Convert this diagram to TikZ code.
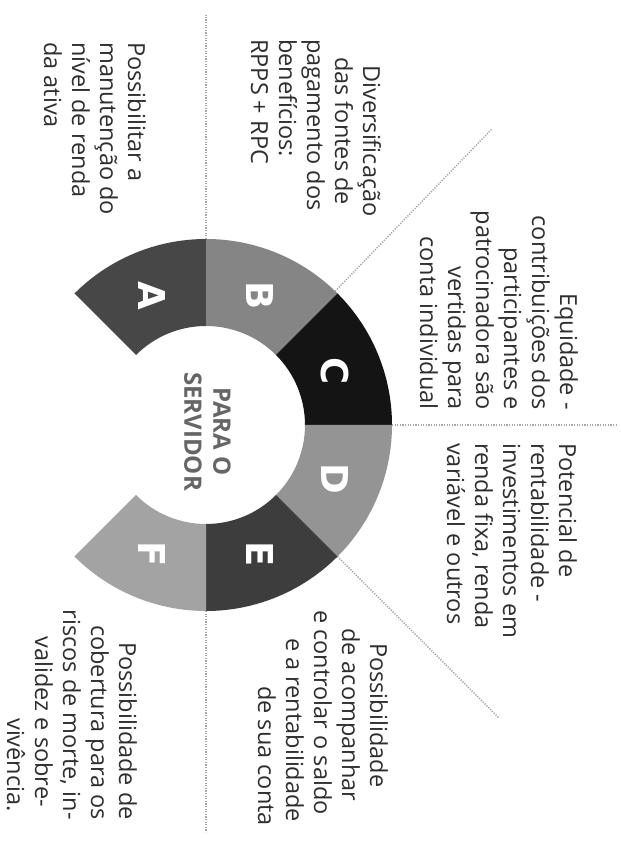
\documentclass[tikz,border=0pt]{standalone}
\usepackage{fontspec}
\setmainfont{Open Sans}
\newfontfamily\letterfont{DejaVu Sans}
\usetikzlibrary{calc}
\colorlet{segA}{black!72}
\colorlet{segB}{black!48}
\colorlet{segC}{black!92}
\colorlet{segD}{black!42}
\colorlet{segE}{black!76}
\colorlet{segF}{black!36}
\begin{document}
\begin{tikzpicture}[x=1pt,y=1pt,
  bodytext/.style={rotate=-90, inner sep=0pt, text=black!82, font=\fontsize{23.5}{28}\selectfont},
  seglabel/.style={rotate=-90, inner sep=0pt, text=white, font=\letterfont\fontsize{37}{40}\selectfont\bfseries},
  hubtext/.style={rotate=-90, inner sep=0pt, text=black!60, align=center, font=\fontsize{24}{29}\selectfont\bfseries},
  guide/.style={draw=black!35, line width=1.5pt, dash pattern=on 1.2pt off 1.4pt}]
\fill[white] (0,0) rectangle (621,847);
\useasboundingbox (0,0) rectangle (621,847);
\def\Ro{186}
\def\Ri{99}
\coordinate (ctr) at (206,422);

% ring segments with their letters
\foreach \a/\b/\col/\lab/\nm in {135/90/segA/A/sa, 90/45/segB/B/sb, 45/0/segC/C/sc, 0/-45/segD/D/sd, -45/-90/segE/E/se, -90/-135/segF/F/sf}{
  \fill[\col] ($(ctr)+(\a:\Ro)$) arc[start angle=\a, end angle=\b, radius=\Ro]
    -- ($(ctr)+(\b:\Ri)$) arc[start angle=\b, end angle=\a, radius=\Ri] -- cycle;
  \node[seglabel] (\nm) at ($(ctr)+({(\a+\b)/2}:140)$) {\lab};
}

% centre text
\node[hubtext] (hub) at (207.5,415.5) {PARA O\\SERVIDOR};

% dotted guide lines
\coordinate (g1a) at ($(ctr)+(90:\Ro)$);   \coordinate (g1b) at (206,832);
\coordinate (g2a) at ($(ctr)+(46:\Ro)$);   \coordinate (g2b) at ($(ctr)+(46:411)$);
\coordinate (g3a) at ($(ctr)+(0:\Ro)$);    \coordinate (g3b) at (618,422);
\coordinate (g4a) at ($(ctr)+(-45:\Ro)$);  \coordinate (g4b) at ($(ctr)+(-45:414)$);
\coordinate (g5a) at ($(ctr)+(-90:\Ro)$);  \coordinate (g5b) at (206,15);
\draw[guide] (g1a) -- (g1b);
\draw[guide] (g2a) -- (g2b);
\draw[guide] (g3a) -- (g3b);
\draw[guide] (g4a) -- (g4b);
\draw[guide] (g5a) -- (g5b);

% text blocks
\node[bodytext, anchor=base west] (tA) at (128,805) {\begin{tabular}[t]{@{}l@{}}Possibilitar a\\manutenção do\\nível de renda\\da ativa\end{tabular}};

\node[bodytext, anchor=base west] (tB) at (363,808) {\begin{tabular}[t]{@{}l@{}}\hspace*{26pt}Diversificação\\\hspace*{18pt}das fontes de\\pagamento dos\\benefícios:\\RPPS + RPC\end{tabular}};

\node[bodytext, anchor=base east] (tC) at (560,437) {\begin{tabular}[t]{@{}r@{}}Equidade -\\contribuições dos\\participantes e\\patrocinadora são\\vertidas para\\conta individual\end{tabular}};

\node[bodytext, anchor=base west] (tD) at (559,404) {\begin{tabular}[t]{@{}l@{}}Potencial de\\rentabilidade -\\investimentos em\\renda fixa, renda\\variável e outros\end{tabular}};

\node[bodytext, anchor=base west] (tE) at (370,237) {\begin{tabular}[t]{@{}l@{}}\hspace*{33pt}Possibilidade\\\hspace*{18pt}de acompanhar\\e controlar o saldo\\\hspace*{28pt}e a rentabilidade\\\hspace*{76pt}de sua conta\end{tabular}};

\node[bodytext, anchor=base east] (tF) at (119,27) {\begin{tabular}[t]{@{}r@{}}Possibilidade de\\cobertura para os\\riscos de morte, in-\\validez e sobre-\hspace*{13pt}\\vivência.\hspace*{8pt}\end{tabular}};
\end{tikzpicture}
\end{document}
